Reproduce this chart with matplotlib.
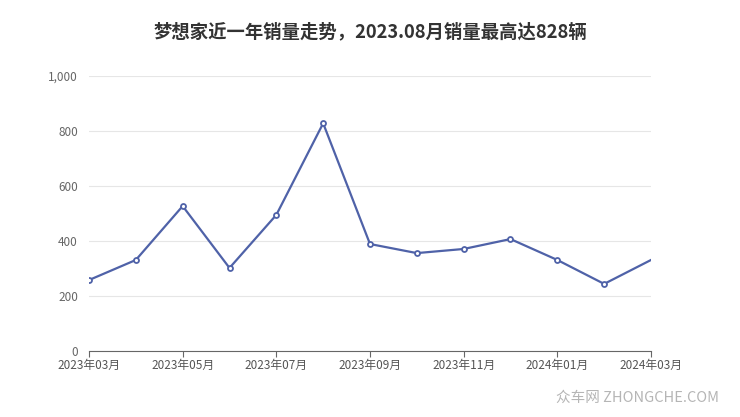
import matplotlib
matplotlib.use("Agg")
import matplotlib.pyplot as plt
from matplotlib.ticker import FuncFormatter

plt.rcParams['font.family'] = ['Noto Sans CJK SC', 'DejaVu Sans']

months = ["2023年03月", "2023年04月", "2023年05月", "2023年06月", "2023年07月", "2023年08月",
          "2023年09月", "2023年10月", "2023年11月", "2023年12月", "2024年01月", "2024年02月", "2024年03月"]
sales = [258, 331, 527, 302, 495, 828, 389, 356, 371, 407, 331, 244, 331]
title = "梦想家近一年销量走势，2023.08月销量最高达828辆"
yticks = [0, 200, 400, 600, 800, 1000]

fig = plt.figure(figsize=(7.4, 4.17), dpi=100)
ax = fig.add_axes([89/740, 1-351/417, (651-89)/740, (351-76)/417])

x = list(range(len(months)))
color = "#4f62a8"
ax.plot(x, sales, color=color, lw=1.6, zorder=3)
ax.plot(x[:-1], sales[:-1], ls='none', marker='o', ms=3.6, mfc='white', mec=color, mew=1.3, zorder=4)

ax.set_xlim(0, len(months)-1)
ax.set_ylim(0, 1000)
ax.set_yticks(yticks)
ax.yaxis.set_major_formatter(FuncFormatter(lambda v, p: f"{int(v):,}"))
ax.set_xticks(x[::2])
ax.set_xticklabels(months[::2])
ax.grid(axis='y', color='#e6e6e6', lw=0.8)
ax.set_axisbelow(True)
for s in ['top', 'right', 'left']:
    ax.spines[s].set_visible(False)
ax.spines['bottom'].set_color('#666666')
ax.spines['bottom'].set_linewidth(0.8)
ax.tick_params(axis='y', length=0, pad=8, labelsize=8.5, labelcolor='#666666')
ax.tick_params(axis='x', length=4, color='#666666', pad=2, labelsize=8.5, labelcolor='#555555')

fig.text(0.5, 1-32/417, title, ha='center', va='center', fontsize=13.2, fontweight='bold', color='#333333')
fig.text(0.972, 1-398/417, "众车网 ZHONGCHE.COM", ha='right', va='center', fontsize=10.5, color='#b5b5b5')

fig.savefig("out.png", dpi=100)
